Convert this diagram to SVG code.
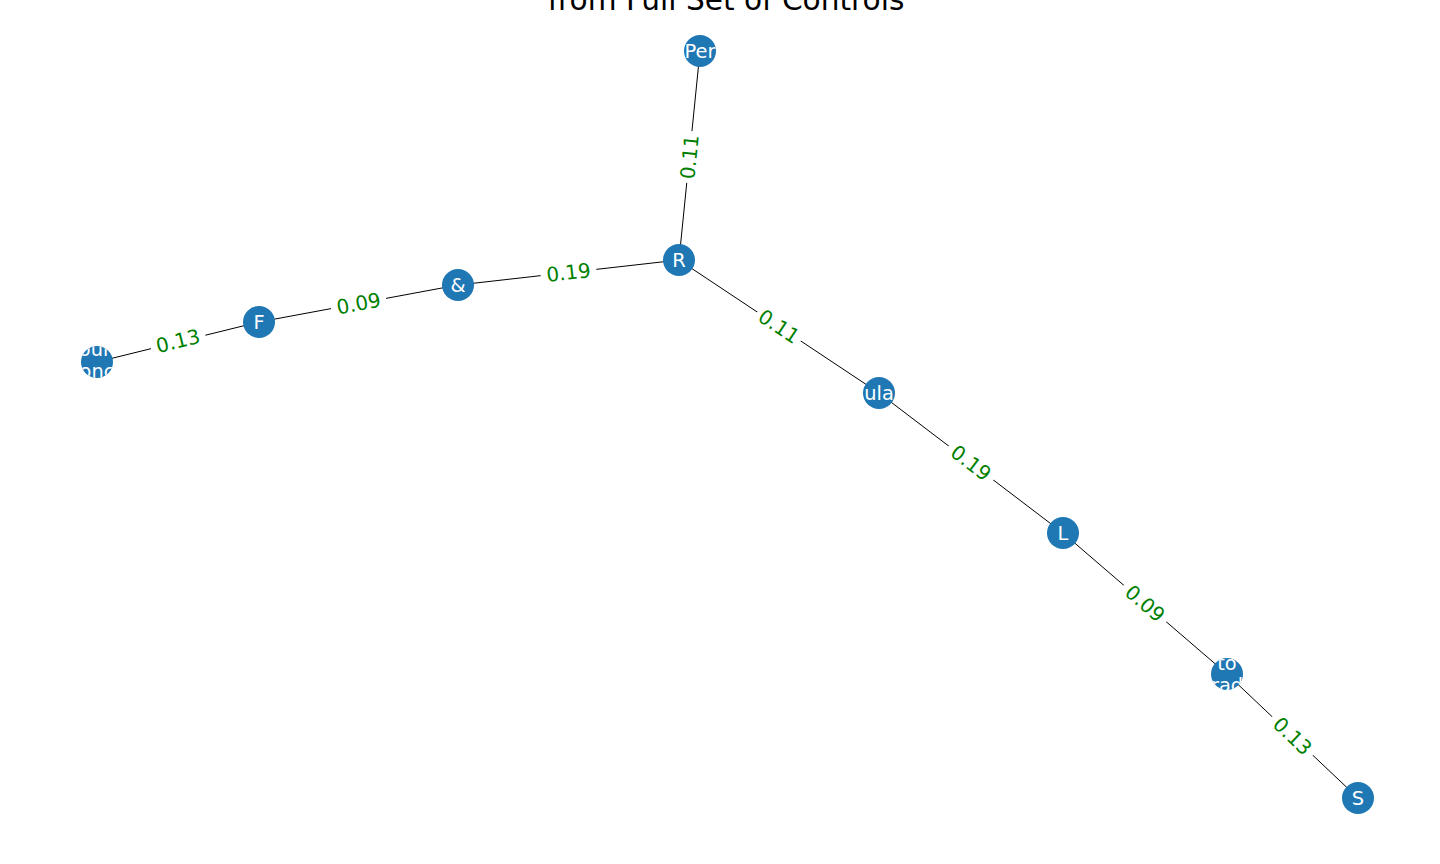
<svg xmlns="http://www.w3.org/2000/svg" width="1440" height="864" viewBox="0 0 1440 864">
<style>
.edge{stroke:#000;stroke-width:1;fill:none}
.node{fill:#1f77b4}
.nl{font-family:"DejaVu Sans",sans-serif;font-size:19.4px;fill:#fff;text-anchor:middle}
.el{font-family:"DejaVu Sans",sans-serif;font-size:20px;fill:#008000;text-anchor:middle}
.bg{fill:#fff}
.title{font-family:"DejaVu Sans",sans-serif;font-size:29.6px;fill:#000;text-anchor:middle}
</style>
<defs>
<clipPath id="cPer"><circle cx="700" cy="51" r="16"/></clipPath>
<clipPath id="cOun"><circle cx="97" cy="362" r="16"/></clipPath>
<clipPath id="cUla"><circle cx="879" cy="393" r="16"/></clipPath>
<clipPath id="cTo"><circle cx="1227" cy="674" r="16"/></clipPath>
</defs>
<rect width="1440" height="864" fill="#fff"/>
<text class="title" x="726" y="10">from Full Set of Controls</text>
<g id="edges">
<line class="edge" x1="679" y1="260" x2="700" y2="51"/>
<line class="edge" x1="679" y1="260" x2="458" y2="285"/>
<line class="edge" x1="458" y1="285" x2="259" y2="322"/>
<line class="edge" x1="259" y1="322" x2="97" y2="362"/>
<line class="edge" x1="679" y1="260" x2="879" y2="393"/>
<line class="edge" x1="879" y1="393" x2="1063" y2="533"/>
<line class="edge" x1="1063" y1="533" x2="1227" y2="674"/>
<line class="edge" x1="1227" y1="674" x2="1358" y2="798"/>
<g transform="translate(689.5,157) rotate(-84.26)"><rect class="bg" x="-26" y="-12" width="52" height="24"/><text class="el" y="7">0.11</text></g>
<g transform="translate(568.5,272.5) rotate(-6.45)"><rect class="bg" x="-28" y="-12" width="56" height="24"/><text class="el" y="7">0.19</text></g>
<g transform="translate(358.5,303.5) rotate(-10.53)"><rect class="bg" x="-28" y="-12" width="56" height="24"/><text class="el" y="7">0.09</text></g>
<g transform="translate(178,341) rotate(-13.87)"><rect class="bg" x="-28" y="-12" width="56" height="24"/><text class="el" y="7">0.13</text></g>
<g transform="translate(779,326.5) rotate(33.63)"><rect class="bg" x="-26" y="-12" width="52" height="24"/><text class="el" y="7">0.11</text></g>
<g transform="translate(971,463) rotate(37.27)"><rect class="bg" x="-28" y="-12" width="56" height="24"/><text class="el" y="7">0.19</text></g>
<g transform="translate(1145,603.5) rotate(40.69)"><rect class="bg" x="-28" y="-12" width="56" height="24"/><text class="el" y="7">0.09</text></g>
<g transform="translate(1292.5,736) rotate(43.43)"><rect class="bg" x="-28" y="-12" width="56" height="24"/><text class="el" y="7">0.13</text></g>
</g>
<g id="node-per"><circle class="node" cx="700" cy="51" r="16"/><text class="nl" x="700" y="58" clip-path="url(#cPer)">Per</text></g>
<g id="node-r"><circle class="node" cx="679" cy="260" r="16"/><text class="nl" x="679" y="267">R</text></g>
<g id="node-amp"><circle class="node" cx="458" cy="285" r="16"/><text class="nl" x="458" y="292">&amp;</text></g>
<g id="node-f"><circle class="node" cx="259" cy="322" r="16"/><text class="nl" x="259" y="329">F</text></g>
<g id="node-oun"><circle class="node" cx="97" cy="362" r="16"/><g clip-path="url(#cOun)"><text class="nl" x="97" y="356">oun</text><text class="nl" x="97" y="378">onc</text></g></g>
<g id="node-ula"><circle class="node" cx="879" cy="393" r="16"/><text class="nl" x="879" y="400" clip-path="url(#cUla)">ula</text></g>
<g id="node-l"><circle class="node" cx="1063" cy="533" r="16"/><text class="nl" x="1063" y="540">L</text></g>
<g id="node-to"><circle class="node" cx="1227" cy="674" r="16"/><g clip-path="url(#cTo)"><text class="nl" x="1227" y="670">to</text><text class="nl" x="1227" y="692">rad</text></g></g>
<g id="node-s"><circle class="node" cx="1358" cy="798" r="16"/><text class="nl" x="1358" y="805">S</text></g>
</svg>
